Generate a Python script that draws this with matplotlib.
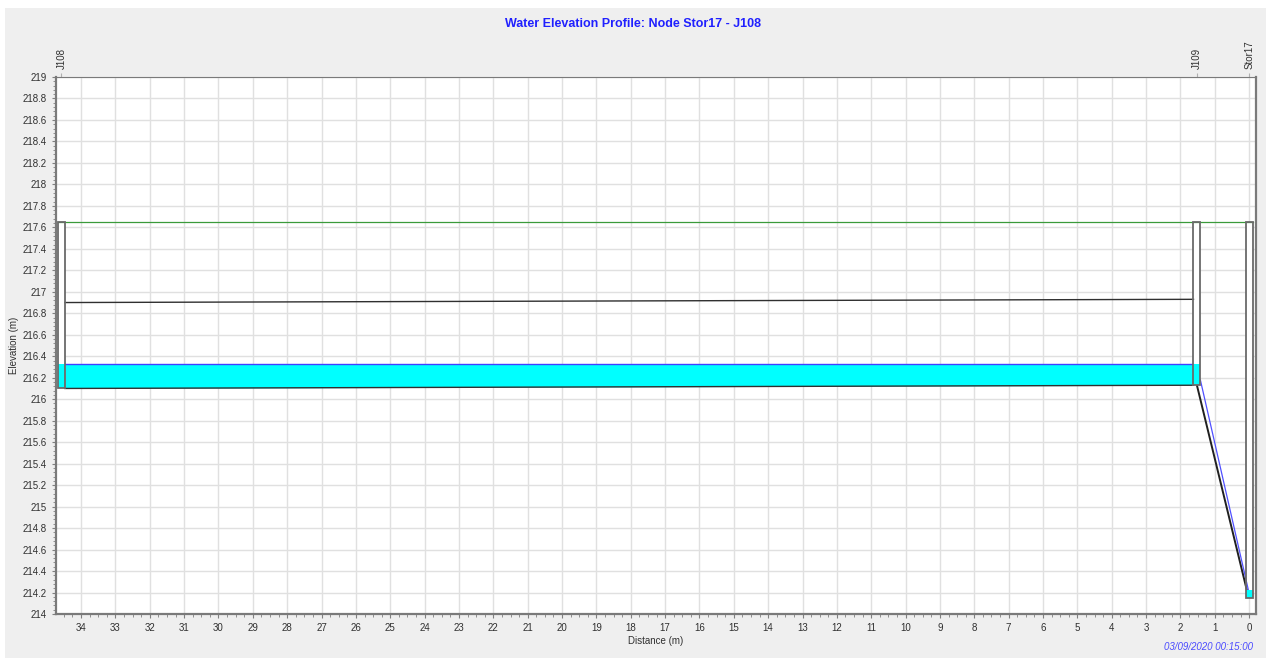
import matplotlib.pyplot as plt
from matplotlib.patches import Rectangle
from matplotlib.ticker import MultipleLocator

plt.rcParams["font.family"] = ["Liberation Sans", "DejaVu Sans"]

# ==========================================
# DATA
# ==========================================

node_names = ["J108", "J109", "Stor17"]
node_dist = [34.57, 1.52, 0.0]          # distance (m)
node_invert = [216.10, 216.13, 214.15]  # invert elevation (m)
node_ground = [217.65, 217.65, 217.65]  # rim elevation (m)
node_water = [216.33, 216.33, 214.22]   # water elevation (m)
node_width = 0.2

# links: J108 -> J109 (conduit with crown), J109 -> Stor17
link_up = [0, 1]
link_dn = [1, 2]
link_height = [0.80, 0.0]

date_text = "03/09/2020 00:15:00"

# ==========================================
# FIGURE
# ==========================================

fig = plt.figure(figsize=(12.69, 6.58), dpi=100)
fig.patch.set_facecolor("white")
fig.patches.append(Rectangle((5 / 1269, 0), 1 - 8 / 1269, 1 - 8 / 658,
                             transform=fig.transFigure, facecolor="#efefef",
                             edgecolor="none", zorder=-10))

ax = fig.add_axes([56 / 1269, 1 - 614 / 658, 1200 / 1269, 537 / 658])
ax.set_facecolor("white")

half = node_width / 2

# ground line
ax.plot([node_dist[0] + half, node_dist[-1] - half], [node_ground[0], node_ground[-1]],
        color="#3a9a3a", lw=0.9, zorder=3)

# conduits
for u, d, h in zip(link_up, link_dn, link_height):
    if h > 0:
        xs = [node_dist[u] - half, node_dist[d] + half]
        ys_bot = [node_invert[u], node_invert[d]]
        ax.fill_between(xs, ys_bot, [node_water[u], node_water[d]],
                        color="#00ffff", zorder=3, lw=0)
        ax.plot(xs, [node_water[u], node_water[d]], color="#4040ff", lw=1.0, zorder=4)
        ax.plot(xs, [node_invert[u] + h, node_invert[d] + h],
                color="#303030", lw=1.0, zorder=4)
        ax.plot(xs, ys_bot, color="#303030", lw=1.0, zorder=4)
    else:
        ax.plot([node_dist[u], node_dist[d] + 0.05], [node_invert[u], node_water[d] - 0.02],
                color="#202020", lw=1.4, zorder=4)
        ax.plot([node_dist[u] - half, node_dist[d] + 0.02], [node_invert[u] + 0.05, node_water[d]],
                color="#5050ff", lw=0.9, zorder=5)

# node boxes
for x, inv, gr, wl in zip(node_dist, node_invert, node_ground, node_water):
    ax.add_patch(Rectangle((x - half, inv), node_width, gr - inv,
                           facecolor="white", edgecolor="none", zorder=2))
    ax.add_patch(Rectangle((x - half, inv), node_width, wl - inv,
                           facecolor="#00ffff", edgecolor="none", zorder=5))
    ax.add_patch(Rectangle((x - half, inv), node_width, gr - inv,
                           facecolor="none", edgecolor="#6a6a6a", lw=1.3, zorder=6))

# ==========================================
# AXES
# ==========================================

ax.set_xlim(34.73, -0.2)
ax.set_ylim(214, 219)
ax.xaxis.set_major_locator(MultipleLocator(1))
ax.xaxis.set_minor_locator(MultipleLocator(0.25))
ax.yaxis.set_major_locator(MultipleLocator(0.2))
ax.yaxis.set_minor_locator(MultipleLocator(0.04))
ax.yaxis.set_major_formatter(plt.FuncFormatter(lambda v, p: f"{v:.1f}".rstrip("0").rstrip(".")))
ax.xaxis.set_major_formatter(plt.FuncFormatter(lambda v, p: f"{v:g}"))

ax.grid(True, which="major", color="#e0e0e0", lw=1.0, zorder=0)
ax.set_axisbelow(True)
ax.tick_params(which="both", direction="out", colors="#808080", labelcolor="#303030",
               labelsize=7)
ax.tick_params(which="major", length=3)
ax.tick_params(which="minor", length=2)
for side in ["left", "bottom", "right", "top"]:
    ax.spines[side].set_color("#7a7a7a")
    ax.spines[side].set_linewidth(1.6)
ax.spines["top"].set_linewidth(0.8)

ax.set_xlabel("Distance (m)", fontsize=7, color="#303030", labelpad=2)
ax.set_ylabel("Elevation (m)", fontsize=7, color="#303030")
ax.yaxis.set_label_coords(-37 / 1200, 0.5)

# node names on top
top = ax.secondary_xaxis("top")
top.set_xticks(node_dist)
top.set_xticklabels(node_names, rotation=90, fontsize=7, color="#303030")
top.tick_params(colors="#b0b0b0", length=3, labelcolor="#303030", pad=3)
top.spines["top"].set_visible(False)

fig.text(633 / 1269, 1 - 24 / 658, "Water Elevation Profile: Node Stor17 - J108",
         ha="center", va="center", color="#2020ff", fontsize=9, fontweight="bold")
fig.text(1253 / 1269, 1 - 647 / 658, date_text, ha="right", va="center",
         color="#4a4aff", fontsize=7, style="italic")

fig.savefig("out.png", dpi=100)
